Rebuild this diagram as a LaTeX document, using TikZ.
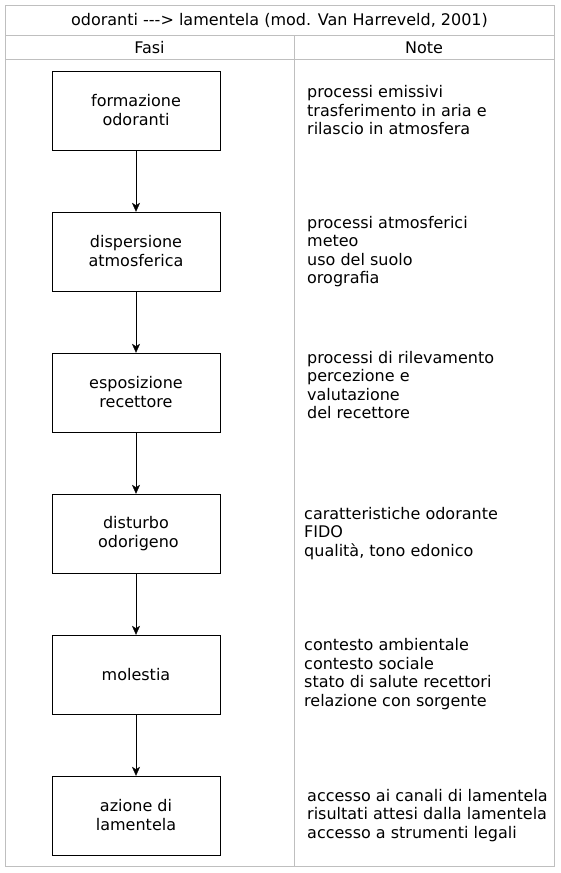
\documentclass[tikz,border=0pt]{standalone}
\usepackage{fontspec}
\setmainfont{DejaVu Sans}[Ligatures=TeXOff]
\usetikzlibrary{arrows.meta}

\tikzset{
  fase/.style={draw, minimum width=168pt, minimum height=79pt, align=center, font=\fontsize{16}{19}\selectfont},
  nota/.style={anchor=west, align=left, inner sep=0pt, font=\fontsize{16}{18.5}\selectfont},
  griglia/.style={draw=black!25, line width=0.8pt}
}

\begin{document}
\begin{tikzpicture}[x=1pt,y=-1pt]
        \useasboundingbox (0,0) rectangle (560,873);
        % tabella
        \draw[griglia] (5,5) rectangle (554,866);
        \draw[griglia] (5,35) -- (554,35);
        \draw[griglia] (5,59) -- (554,59);
        \draw[griglia] (294,35) -- (294,866);
        \node[font=\fontsize{16}{18}\selectfont] (titolo) at (279.5,20) {odoranti ---> lamentela (mod. Van Harreveld, 2001)};
        \node[font=\fontsize{16}{18}\selectfont] (fasi) at (149.5,48) {Fasi};
        \node[font=\fontsize{16}{18}\selectfont] (note) at (424,48) {Note};

        % fasi
        \node[fase] (f1) at (136,110.5) {formazione\\odoranti};
        \node[fase] (f2) at (136,251.5) {dispersione\\atmosferica};
        \node[fase] (f3) at (136,392.5) {esposizione\\recettore};
        \node[fase] (f4) at (136,533.5) {disturbo\\\hspace*{0.3em}odorigeno};
        \node[fase] (f5) at (136,674.5) {molestia};
        \node[fase] (f6) at (136,815.5) {azione di\\lamentela};
        \foreach \a/\b in {f1/f2,f2/f3,f3/f4,f4/f5,f5/f6}
          \draw[-{Stealth[length=9pt,width=8pt,inset=2.5pt]}] (\a) -- (\b);

        % note
        \node[nota] (n1) at (307,110.5) {processi emissivi\\trasferimento in aria e\\rilascio in atmosfera};
        \node[nota] (n2) at (307,251.5) {processi atmosferici\\meteo\\uso del suolo\\orografia};
        \node[nota] (n3) at (307,385) {processi di rilevamento\\percezione e\\valutazione\\del recettore};
        \node[nota] (n4) at (304,533.5) {caratteristiche odorante\\FIDO\\qualità, tono edonico};
        \node[nota] (n5) at (304,674) {contesto ambientale\\contesto sociale\\stato di salute recettori\\relazione con sorgente};
        \node[nota] (n6) at (307,815.5) {accesso ai canali di lamentela\\risultati attesi dalla lamentela\\accesso a strumenti legali};
    \end{tikzpicture}
\end{document}
